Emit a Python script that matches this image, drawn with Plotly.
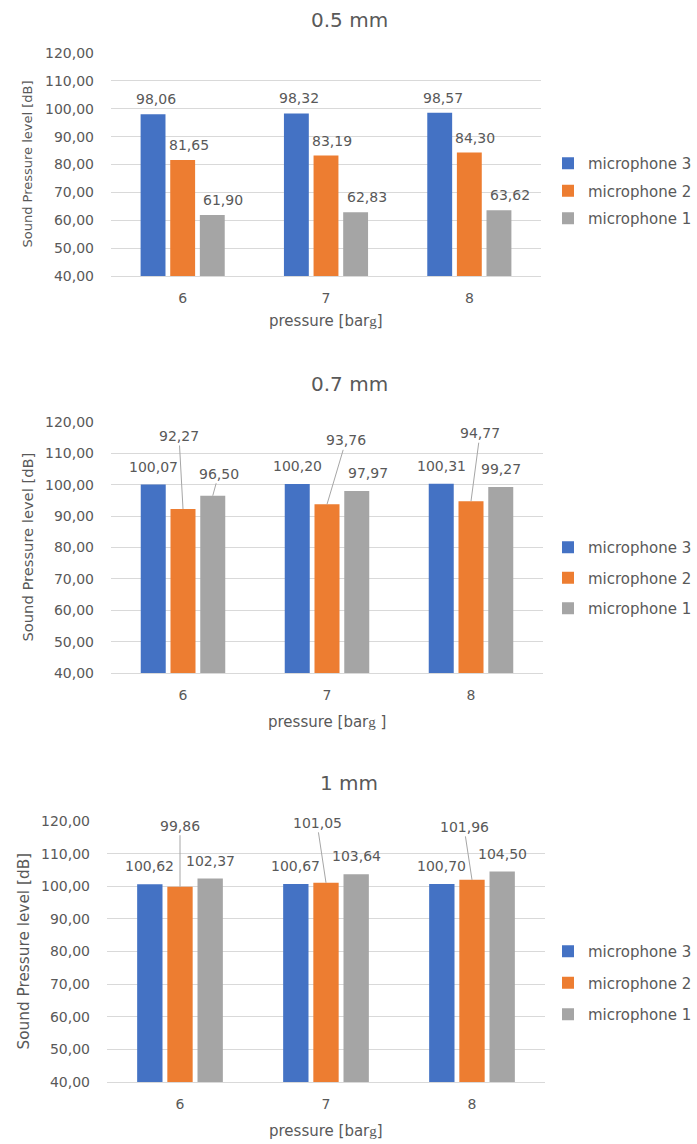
import plotly.graph_objects as go

W, H = 697, 1144

# ---- data -----------------------------------------------------------------
pressure = ["6", "7", "8"]
mic_names = ["microphone 3", "microphone 2", "microphone 1"]

# 0.5 mm nozzle
spl_05_mic3 = [98.06, 98.32, 98.57]
spl_05_mic2 = [81.65, 83.19, 84.30]
spl_05_mic1 = [61.90, 62.83, 63.62]

# 0.7 mm nozzle
spl_07_mic3 = [100.07, 100.20, 100.31]
spl_07_mic2 = [92.27, 93.76, 94.77]
spl_07_mic1 = [96.50, 97.97, 99.27]

# 1 mm nozzle
spl_10_mic3 = [100.62, 100.67, 100.70]
spl_10_mic2 = [99.86, 101.05, 101.96]
spl_10_mic1 = [102.37, 103.64, 104.50]

y_ticks = [40, 50, 60, 70, 80, 90, 100, 110, 120]

# ---- styling --------------------------------------------------------------
COLORS = ["#4472C4", "#ED7D31", "#A5A5A5"]
TEXT = "#595959"
GRID = "#D9D9D9"
FONT = "DejaVu Sans"
BARGAP = 0.38
BARGROUPGAP = 0.16

G_SERIF = "<span style=\"font-family:'Liberation Serif'\">g</span>"

# pixel boxes of each plot area: (left, right, top, bottom)
panels = [
    dict(title="0.5 mm", series=[spl_05_mic3, spl_05_mic2, spl_05_mic1],
         box=(111, 541, 53, 276), title_y=20, xtitle_y=321,
         xtitle="pressure [bar" + G_SERIF + "]",
         ytitle_x=27, ytitle_size=13, legend_y=191, legend_gap=5,
         label_lift=15, series_nudge=[3, 6, 11],
         leaders={}, nudges={}),
    dict(title="0.7 mm", series=[spl_07_mic3, spl_07_mic2, spl_07_mic1],
         box=(111, 543, 422, 673), title_y=384, xtitle_y=722,
         xtitle="pressure [bar" + G_SERIF + " ]",
         ytitle_x=27, ytitle_size=14.7, legend_y=578, legend_gap=8,
         label_lift=18, series_nudge=[0, 0, 0],
         leaders={(1, 0): (-4, -73), (1, 1): (19, -64), (1, 2): (9, -68),
                  (2, 0): (6, -22)},
         nudges={(2, 1): 11}),
    dict(title="1 mm", series=[spl_10_mic3, spl_10_mic2, spl_10_mic1],
         box=(107, 545, 821, 1082), title_y=783, xtitle_y=1131,
         xtitle="pressure [bar" + G_SERIF + "]",
         ytitle_x=23, ytitle_size=15.3, legend_y=983, legend_gap=9,
         label_lift=18, series_nudge=[0, 0, 0],
         leaders={(1, 0): (0, -61), (1, 1): (-9, -60), (1, 2): (-8, -53)},
         nudges={}),
]


def px_x(v):
    return v / W


def px_y(v):
    return 1 - v / H


def fmt(v):
    return f"{v:.2f}".replace(".", ",")


fig = go.Figure()
annotations = []
slot = (1 - BARGAP) / 3

for p_idx, panel in enumerate(panels):
    k = "" if p_idx == 0 else str(p_idx + 1)
    xref, yref = "x" + k, "y" + k
    legend_id = "legend" + k
    left, right, top, bottom = panel["box"]

    for j, (name, values) in enumerate(zip(mic_names, panel["series"])):
        fig.add_trace(go.Bar(
            x=pressure, y=values, name=name,
            marker=dict(color=COLORS[j], line=dict(width=0)),
            xaxis=xref, yaxis=yref, legend=legend_id,
            legendgroup=f"{p_idx}-{j}",
            hoverinfo="x+y+name",
        ))
        # value labels above each bar
        for i, v in enumerate(values):
            xpos = i + (j - 1) * slot
            if (j, i) in panel["leaders"]:
                ax, ay = panel["leaders"][(j, i)]
                annotations.append(dict(
                    x=xpos, y=v, xref=xref, yref=yref, text=fmt(v),
                    showarrow=True, arrowhead=0, arrowwidth=1,
                    arrowcolor="#A6A6A6", ax=ax, ay=ay,
                    standoff=0, startstandoff=0,
                    font=dict(family=FONT, size=14, color=TEXT),
                ))
            else:
                annotations.append(dict(
                    x=xpos, y=v, xref=xref, yref=yref, text=fmt(v),
                    showarrow=False, xanchor="center", yanchor="middle",
                    yshift=panel["label_lift"],
                    xshift=panel["series_nudge"][j]
                    + panel["nudges"].get((j, i), 0),
                    font=dict(family=FONT, size=14, color=TEXT),
                ))

    fig.update_layout(**{
        "xaxis" + k: dict(
            domain=[px_x(left), px_x(right)], anchor=yref, type="category",
            showline=True, linecolor=GRID, linewidth=1, showgrid=False,
            ticks="", ticklen=0, ticklabelstandoff=9, automargin=False,
            tickfont=dict(family=FONT, size=14, color=TEXT),
            fixedrange=True,
        ),
        "yaxis" + k: dict(
            domain=[px_y(bottom), px_y(top)], anchor=xref,
            range=[40, 120], tickvals=y_ticks, tickformat=".2f",
            showgrid=True, gridcolor=GRID, gridwidth=1,
            zeroline=False, showline=False, ticks="", ticklen=0,
            ticklabelstandoff=16, automargin=False,
            tickfont=dict(family=FONT, size=14, color=TEXT),
            fixedrange=True,
        ),
        legend_id: dict(
            x=px_x(548), y=px_y(panel["legend_y"]),
            xanchor="left", yanchor="middle",
            font=dict(family=FONT, size=15, color=TEXT),
            tracegroupgap=panel["legend_gap"],
            bgcolor="rgba(0,0,0,0)", borderwidth=0,
        ),
    })

    # panel title
    annotations.append(dict(
        x=px_x(349), y=px_y(panel["title_y"]), xref="paper", yref="paper",
        text=panel["title"], showarrow=False, xanchor="center", yanchor="middle",
        font=dict(family=FONT, size=20, color=TEXT),
    ))
    # x-axis title
    annotations.append(dict(
        x=px_x((left + right) / 2), y=px_y(panel["xtitle_y"]),
        xref="paper", yref="paper", text=panel["xtitle"], showarrow=False,
        xanchor="center", yanchor="middle",
        font=dict(family=FONT, size=15, color=TEXT),
    ))
    # y-axis title
    annotations.append(dict(
        x=px_x(panel["ytitle_x"]), y=px_y((top + bottom) / 2),
        xref="paper", yref="paper", text="Sound Pressure level [dB]",
        showarrow=False, textangle=-90, xanchor="center", yanchor="middle",
        font=dict(family=FONT, size=panel["ytitle_size"], color=TEXT),
    ))

fig.update_layout(
    width=W, height=H, autosize=False,
    margin=dict(l=0, r=0, t=0, b=0, autoexpand=False),
    paper_bgcolor="white", plot_bgcolor="white",
    barmode="group", bargap=BARGAP, bargroupgap=BARGROUPGAP,
    separators=",.",
    annotations=annotations,
    showlegend=True,
    font=dict(family=FONT, color=TEXT),
)

fig.write_html("out.html")
